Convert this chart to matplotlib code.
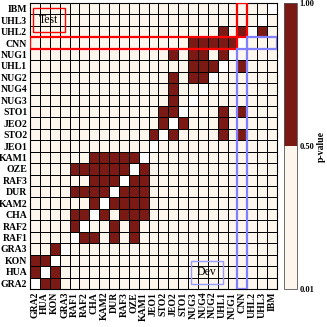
import numpy as np
import matplotlib
matplotlib.use('Agg')
from matplotlib import pyplot as plt
from matplotlib.colors import ListedColormap, BoundaryNorm
from matplotlib.patches import Rectangle

# Systems, in the order used on both axes (x left->right, y bottom->top)
systems = ['GRA2', 'HUA', 'KON', 'GRA3', 'RAF1', 'RAF2', 'CHA', 'KAM2', 'DUR',
           'RAF3', 'OZE', 'KAM1', 'JEO1', 'STO2', 'JEO2', 'STO1', 'NUG3', 'NUG4',
           'NUG2', 'UHL1', 'NUG1', 'CNN', 'UHL2', 'UHL3', 'IBM']

# Cells with p-value above 0.5 (dark), per row system
high_p = {
    'GRA2': ['HUA', 'KON'],
    'HUA': ['GRA2', 'KON'],
    'KON': ['GRA2', 'HUA'],
    'GRA3': ['KON'],
    'RAF1': ['RAF2', 'CHA', 'DUR', 'OZE'],
    'RAF2': ['RAF1', 'DUR', 'OZE'],
    'CHA': ['RAF1', 'RAF2', 'KAM2', 'RAF3', 'OZE', 'KAM1'],
    'KAM2': ['CHA', 'DUR', 'RAF3', 'OZE', 'KAM1'],
    'DUR': ['RAF1', 'RAF2', 'CHA', 'KAM2', 'RAF3', 'OZE', 'KAM1'],
    'RAF3': ['CHA', 'KAM2', 'DUR', 'OZE', 'KAM1'],
    'OZE': ['RAF1', 'RAF2', 'CHA', 'KAM2', 'DUR', 'RAF3', 'KAM1'],
    'KAM1': ['CHA', 'KAM2', 'DUR', 'RAF3', 'OZE'],
    'JEO1': [],
    'STO2': ['JEO1', 'JEO2', 'UHL1', 'CNN'],
    'JEO2': ['STO2', 'STO1', 'UHL1'],
    'STO1': ['STO2', 'JEO2', 'UHL1', 'CNN'],
    'NUG3': ['JEO2'],
    'NUG4': ['JEO2'],
    'NUG2': ['JEO2', 'NUG3', 'NUG4'],
    'UHL1': ['NUG3', 'NUG4', 'NUG2', 'CNN'],
    'NUG1': ['JEO2', 'NUG3', 'NUG4', 'UHL1'],
    'CNN': ['NUG3', 'NUG4', 'NUG2', 'UHL1', 'NUG1'],
    'UHL2': ['UHL1', 'CNN', 'UHL3'],
    'UHL3': [],
    'IBM': [],
}

P_HIGH, P_LOW = 0.75, 0.25
cbar_ticks = [0.01, 0.50, 1.00]

if __name__ == '__main__':
    plt.rcParams['font.family'] = ['Liberation Serif', 'DejaVu Serif']

    n = len(systems)
    mat = np.full((n, n), P_LOW)
    for row, cols in high_p.items():
        for c in cols:
            mat[systems.index(row), systems.index(c)] = P_HIGH
    # diagonal is left blank
    mat[np.arange(n), np.arange(n)] = np.nan
    mat = np.ma.masked_invalid(mat)

    cmap = ListedColormap(['#fcf6ec', '#7b1a14'])
    cmap.set_bad('white')
    norm = BoundaryNorm([0.01, 0.5, 1.0], cmap.N)

    fig = plt.figure(figsize=(3.27, 3.27), dpi=100)
    ax = fig.add_axes([0.0917, 0.1162, 0.7553, 0.8746])
    cax = fig.add_axes([0.8685, 0.1162, 0.039, 0.8746])

    mesh = ax.pcolormesh(np.arange(n + 1), np.arange(n + 1), mat, cmap=cmap,
                         norm=norm, edgecolors='black', linewidth=0.55)
    ax.set_xlim(0, n)
    ax.set_ylim(0, n)

    ax.set_xticks(np.arange(n) + 0.5)
    ax.set_yticks(np.arange(n) + 0.5)
    ax.set_xticklabels(systems, rotation=90, fontsize=7, fontweight='bold')
    ax.set_yticklabels(systems, fontsize=7, fontweight='bold')
    ax.tick_params(length=0, pad=2)
    for s in ax.spines.values():
        s.set_linewidth(0.8)

    # Highlight the CNN row / column: test (red) and dev (blue) halves
    k = systems.index('CNN')
    ax.add_patch(Rectangle((0, k), k, 1, fill=False, ec='red', lw=1.6, zorder=5))
    ax.add_patch(Rectangle((k, k + 1), 1, n - k - 1, fill=False, ec='red', lw=1.6, zorder=5))
    ax.add_patch(Rectangle((k + 1, k), n - k - 1, 1, fill=False, ec='#7f7fff', lw=1.6, zorder=5))
    ax.add_patch(Rectangle((k, 0), 1, k, fill=False, ec='#7f7fff', lw=1.6, zorder=5))

    ax.text(1.92, 23.5, 'Test', fontsize=8.5, ha='center', va='center', zorder=6,
            bbox=dict(boxstyle='square,pad=0.5', fc='none', ec='red', lw=1))
    ax.text(17.9, 1.45, 'Dev', fontsize=8.5, ha='center', va='center', zorder=6,
            bbox=dict(boxstyle='square,pad=0.5', fc='none', ec='#9a9aff', lw=1))

    cb = fig.colorbar(mesh, cax=cax, ticks=cbar_ticks)
    cb.ax.set_yticklabels(['%.2f' % t for t in cbar_ticks], fontsize=6, fontweight='bold')
    cb.ax.tick_params(length=0, pad=2)
    cb.outline.set_linewidth(0.6)
    cb.outline.set_edgecolor('#555555')
    cb.set_label('p-value', fontsize=7, fontweight='bold', labelpad=2)

    plt.savefig('out.png', dpi=100)
